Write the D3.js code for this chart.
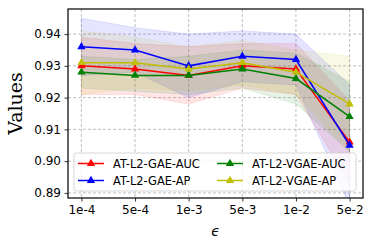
<!DOCTYPE html>
<html><head><meta charset="utf-8">
<script src="https://cdn.jsdelivr.net/npm/d3@7"></script>
<style>body{margin:0;background:#fff}svg{display:block}</style>
</head><body>
<script>
const categories = ["1e-4","5e-4","1e-3","5e-3","1e-2","5e-2"];
const yTicks = [0.89,0.90,0.91,0.92,0.93,0.94];
const seriesNames = ["AT-L2-GAE-AUC","AT-L2-GAE-AP","AT-L2-VGAE-AUC","AT-L2-VGAE-AP"];
const seriesColors = ["#ff0000","#0000ff","#008000","#bfbf00"];
const gaeAuc   = [0.930,0.929,0.927,0.930,0.929,0.906];
const gaeAp    = [0.936,0.935,0.930,0.933,0.932,0.905];
const vgaeAuc  = [0.928,0.927,0.927,0.929,0.926,0.914];
const vgaeAp   = [0.931,0.931,0.929,0.931,0.928,0.918];
const gaeAucStd  = [0.009,0.008,0.009,0.007,0.008,0.013];
const gaeApStd   = [0.009,0.007,0.010,0.008,0.008,0.019];
const vgaeAucStd = [0.005,0.005,0.006,0.006,0.008,0.011];
const vgaeApStd  = [0.010,0.008,0.007,0.007,0.007,0.015];

const values = [gaeAuc,gaeAp,vgaeAuc,vgaeAp];
const stds = [gaeAucStd,gaeApStd,vgaeAucStd,vgaeApStd];

const W=374,H=249;
const m={l:68,t:9,r:11,b:51};
const iw=W-m.l-m.r, ih=H-m.t-m.b;
const svg=d3.select("body").append("svg").attr("width",W).attr("height",H);
const g=svg.append("g").attr("transform",`translate(${m.l},${m.t})`);

const x=d3.scalePoint().domain(categories).range([0,iw]).padding(0.25);
const y=d3.scaleLinear().domain([0.8884,0.9479]).range([ih,0]);

// grid
g.append("g").selectAll("line").data(categories).join("line")
  .attr("x1",d=>x(d)).attr("x2",d=>x(d)).attr("y1",0).attr("y2",ih)
  .attr("stroke","#b0b0b0").attr("stroke-width",0.8).attr("stroke-dasharray","3,2");
g.append("g").selectAll("line").data(yTicks).join("line")
  .attr("y1",d=>y(d)).attr("y2",d=>y(d)).attr("x1",0).attr("x2",iw)
  .attr("stroke","#b0b0b0").attr("stroke-width",0.8).attr("stroke-dasharray","3,2");

svg.append("clipPath").attr("id","c").append("rect").attr("width",iw).attr("height",ih);
const pg=g.append("g").attr("clip-path","url(#c)");

// bands
values.forEach((vals,i)=>{
  const area=d3.area().x((d,j)=>x(categories[j])).y0((d,j)=>y(d-stds[i][j])).y1((d,j)=>y(d+stds[i][j]));
  pg.append("path").datum(vals).attr("d",area).attr("fill",seriesColors[i]).attr("fill-opacity",0.1)
    .attr("stroke",seriesColors[i]).attr("stroke-opacity",0.1);
});
// lines
const tri=d3.symbol().type(d3.symbolTriangle).size(30);
values.forEach((vals,i)=>{
  const line=d3.line().x((d,j)=>x(categories[j])).y(d=>y(d));
  pg.append("path").datum(vals).attr("d",line).attr("fill","none").attr("stroke",seriesColors[i]).attr("stroke-width",1.5);
  pg.append("g").selectAll("path").data(vals).join("path")
    .attr("transform",(d,j)=>`translate(${x(categories[j])},${y(d)})`).attr("d",tri).attr("fill",seriesColors[i]);
});

// axes
const fontTick="DejaVu Sans";
const xa=g.append("g").attr("transform",`translate(0,${ih})`).call(d3.axisBottom(x).tickSize(3.5).tickPadding(3.5));
const ya=g.append("g").call(d3.axisLeft(y).tickValues(yTicks).tickFormat(d3.format(".2f")).tickSize(3.5).tickPadding(3.5));
[xa,ya].forEach(a=>{
  a.select(".domain").remove();
  a.selectAll("text").attr("font-family",fontTick).attr("font-size",12).attr("fill","#000");
  a.selectAll("line").attr("stroke","#000").attr("stroke-width",0.8);
});
g.append("rect").attr("width",iw).attr("height",ih).attr("fill","none").attr("stroke","#000").attr("stroke-width",1.2);

// labels
svg.append("text").attr("transform",`translate(22,${m.t+ih/2}) rotate(-90)`).attr("text-anchor","middle")
  .attr("font-family","DejaVu Serif").attr("font-size",19).text("Values");
svg.append("text").attr("x",m.l+iw/2).attr("y",236).attr("text-anchor","middle")
  .attr("font-family",fontTick).attr("font-style","italic").attr("font-size",14).text("ϵ");

// legend
const lg=g.append("g");
lg.append("rect").attr("x",6).attr("y",144).attr("width",282).attr("height",38).attr("rx",2)
  .attr("fill","#fff").attr("fill-opacity",0.8).attr("stroke","#ccc").attr("stroke-width",0.8);
seriesNames.forEach((n,i)=>{
  const col=Math.floor(i/2), row=i%2;
  const lx=10+col*139, ly=154.5+row*17;
  lg.append("line").attr("x1",lx).attr("x2",lx+26).attr("y1",ly).attr("y2",ly).attr("stroke",seriesColors[i]).attr("stroke-width",1.5);
  lg.append("path").attr("transform",`translate(${lx+13},${ly})`).attr("d",tri).attr("fill",seriesColors[i]);
  lg.append("text").attr("x",lx+35).attr("y",ly+4).attr("font-family",fontTick).attr("font-size",11.4).text(n);
});
</script>
</body></html>
